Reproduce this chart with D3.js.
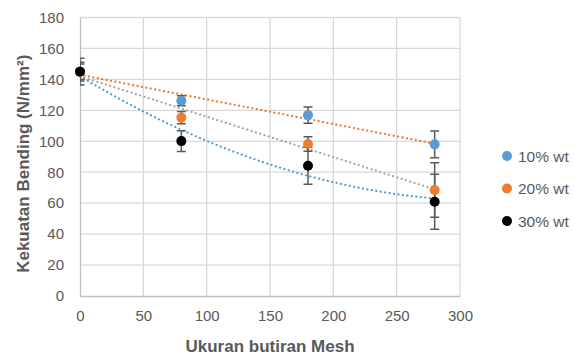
<!DOCTYPE html>
<html>
<head>
<meta charset="utf-8">
<script src="https://cdn.jsdelivr.net/npm/d3@7"></script>
<style>
  body { margin: 0; background: #fff; }
  text { font-family: "Liberation Sans", Arial, sans-serif; fill: #595959; }
</style>
</head>
<body>
<div id="chart-area"></div>
<script>
// data
var meshSizes = [0, 80, 180, 280];
var seriesNames = ["10% wt", "20% wt", "30% wt"];
var strength10 = [145, 126.2, 116.9, 98.0];
var strength20 = [145, 115.3, 98.2, 68.5];
var strength30 = [145, 100.1, 84.2, 60.9];
var error10 = [5, 3.3, 5.3, 8.6];
var error20 = [6, 4, 4.7, 17.6];
var error30 = [8.7, 6.7, 12, 17.8];
var xTicks = [0, 50, 100, 150, 200, 250, 300];
var yTicks = [0, 20, 40, 60, 80, 100, 120, 140, 160, 180];

var colors = ["#5b9bd5", "#ed7d31", "#000000"];
// excel gave the trendlines their own colours
var trendColors = ["#ed7d31", "#a5a5a5", "#5b9bd5"];
var trendOrder = [1, 1, 2];

var series = seriesNames.map(function(name, i) {
    var vals = [strength10, strength20, strength30][i];
    var errs = [error10, error20, error30][i];
    return {
        name: name,
        color: colors[i],
        trendColor: trendColors[i],
        order: trendOrder[i],
        points: meshSizes.map(function(m, j) { return {x: m, y: vals[j], e: errs[j]}; })
    };
});

var W = 575, H = 355;
var margin = {left: 80, top: 17.5, right: 115, bottom: 59};
var width = W - margin.left - margin.right,
    height = H - margin.top - margin.bottom;

var svg = d3.select("#chart-area")
    .append("svg")
        .attr("width", W)
        .attr("height", H);

var g = svg.append("g")
    .attr("transform", "translate(" + margin.left + ", " + margin.top + ")");

var x = d3.scaleLinear().domain([0, 300]).range([0, width]);
var y = d3.scaleLinear().domain([0, 180]).range([height, 0]);

g.append("clipPath").attr("id", "plot-clip")
    .append("rect").attr("width", width).attr("height", height);

// gridlines
g.append("g")
    .selectAll("line.h")
    .data(yTicks.slice(1))
    .enter().append("line")
        .attr("x1", 0).attr("x2", width)
        .attr("y1", d => y(d)).attr("y2", d => y(d))
        .attr("stroke", "#d9d9d9").attr("stroke-width", 1.3);
g.append("g")
    .selectAll("line.v")
    .data(xTicks.slice(1))
    .enter().append("line")
        .attr("y1", 0).attr("y2", height)
        .attr("x1", d => x(d)).attr("x2", d => x(d))
        .attr("stroke", "#d9d9d9").attr("stroke-width", 1.3);

// axes
var xAxis = d3.axisBottom(x).tickValues(xTicks).tickSize(0).tickPadding(14);
var yAxis = d3.axisLeft(y).tickValues(yTicks).tickSize(0).tickPadding(16);

var xAxisGroup = g.append("g")
    .attr("transform", "translate(0, " + height + ")")
    .call(xAxis);
var yAxisGroup = g.append("g").call(yAxis);

[xAxisGroup, yAxisGroup].forEach(function(ax) {
    ax.select(".domain").attr("stroke", "#bfbfbf").attr("stroke-width", 1.3);
    ax.selectAll("text")
        .attr("fill", "#595959")
        .style("font-size", "15px")
        .style("font-family", "'Liberation Sans', Arial, sans-serif");
});

// least squares polynomial fit
function polyFit(pts, order) {
    var n = order + 1;
    var A = [], b = [];
    for (var r = 0; r < n; r++) {
        A.push([]);
        for (var c = 0; c < n; c++) {
            A[r].push(d3.sum(pts, p => Math.pow(p.x, r + c)));
        }
        b.push(d3.sum(pts, p => p.y * Math.pow(p.x, r)));
    }
    // gaussian elimination
    for (var i = 0; i < n; i++) {
        for (var k = i + 1; k < n; k++) {
            var f = A[k][i] / A[i][i];
            for (var j = i; j < n; j++) A[k][j] -= f * A[i][j];
            b[k] -= f * b[i];
        }
    }
    var coef = new Array(n).fill(0);
    for (var i2 = n - 1; i2 >= 0; i2--) {
        var s = b[i2];
        for (var j2 = i2 + 1; j2 < n; j2++) s -= A[i2][j2] * coef[j2];
        coef[i2] = s / A[i2][i2];
    }
    return function(xv) {
        return d3.sum(coef, (c, idx) => c * Math.pow(xv, idx));
    };
}

var line = d3.line().x(d => x(d[0])).y(d => y(d[1]));

// trendlines
series.forEach(function(s) {
    var f = polyFit(s.points, s.order);
    var xs = d3.range(0, 280.01, 2);
    g.append("path")
        .datum(xs.map(v => [v, f(v)]))
        .attr("d", line)
        .attr("fill", "none")
        .attr("stroke", s.trendColor)
        .attr("stroke-width", 2.2)
        .attr("stroke-linecap", "round")
        .attr("stroke-dasharray", "0.1,4.4");
});

// error bars
var errG = g.append("g").attr("clip-path", "url(#plot-clip)");
series.forEach(function(s) {
    var eb = errG.selectAll(null)
        .data(s.points)
        .enter().append("g")
        .attr("stroke", "#595959")
        .attr("stroke-width", 1.5);
    eb.append("line")
        .attr("x1", d => x(d.x)).attr("x2", d => x(d.x))
        .attr("y1", d => y(d.y + d.e)).attr("y2", d => y(d.y - d.e));
    eb.append("line")
        .attr("x1", d => x(d.x) - 4.5).attr("x2", d => x(d.x) + 4.5)
        .attr("y1", d => y(d.y + d.e)).attr("y2", d => y(d.y + d.e));
    eb.append("line")
        .attr("x1", d => x(d.x) - 4.5).attr("x2", d => x(d.x) + 4.5)
        .attr("y1", d => y(d.y - d.e)).attr("y2", d => y(d.y - d.e));
});

// markers
series.forEach(function(s) {
    g.selectAll(null)
        .data(s.points)
        .enter().append("circle")
            .attr("cx", d => x(d.x))
            .attr("cy", d => y(d.y))
            .attr("r", 5)
            .attr("fill", s.color);
});

// axis titles
g.append("text")
    .attr("x", width / 2)
    .attr("y", height + 56)
    .attr("text-anchor", "middle")
    .style("font-size", "17px")
    .style("font-weight", "bold")
    .text("Ukuran butiran Mesh");

g.append("text")
    .attr("transform", "translate(" + (-51) + ", " + (height / 2 + 7) + ") rotate(-90)")
    .attr("text-anchor", "middle")
    .style("font-size", "17px")
    .style("font-weight", "bold")
    .text("Kekuatan Bending (N/mm²)");

// legend
var legend = svg.append("g").attr("transform", "translate(507, 156)");
var items = legend.selectAll("g")
    .data(series)
    .enter().append("g")
        .attr("transform", (d, i) => "translate(0, " + (i * 32.5) + ")");
items.append("circle").attr("r", 5).attr("fill", d => d.color);
items.append("text")
    .attr("x", 11)
    .attr("y", 5.5)
    .style("font-size", "15.5px")
    .text(d => d.name);
</script>
</body>
</html>
